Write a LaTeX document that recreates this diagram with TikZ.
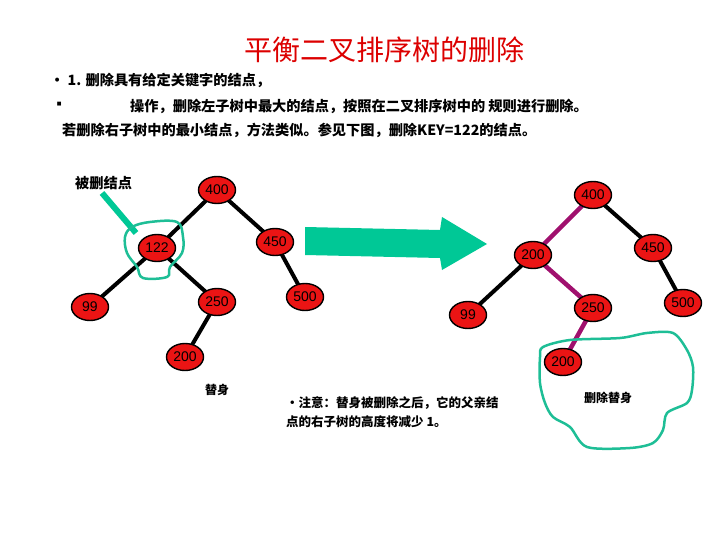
\documentclass[tikz,border=0pt]{standalone}
\usepackage{fontspec}
\setmainfont{Liberation Sans}
\newfontfamily\cjk{Noto Sans CJK SC}
\usetikzlibrary{shapes.geometric,backgrounds}
\definecolor{teal1}{RGB}{0,200,150}
\definecolor{loopc}{RGB}{30,190,150}
\definecolor{purp}{RGB}{160,16,110}
\definecolor{nred}{RGB}{235,20,20}
\definecolor{tred}{RGB}{220,0,0}
\tikzset{
  tn/.style={ellipse,draw=black,line width=1.4pt,fill=nred,minimum width=37pt,minimum height=27pt,inner sep=0pt,font=\fontsize{14}{14}\selectfont},
  blk/.style={draw=black,line width=4pt},
  pur/.style={draw=purp,line width=4.5pt},
  txt/.style={anchor=west,inner sep=0pt,font=\cjk\bfseries\fontsize{14.2}{16}\selectfont},
  loopline/.style={draw=loopc,line width=2.5pt,line join=round}
}
\begin{document}
\begin{tikzpicture}[x=1pt,y=-1pt]
\useasboundingbox (0,0) rectangle (720,540);
% title
\node[text=tred,font=\cjk\fontsize{28}{30}\selectfont] (title) at (384,50) {平衡二叉排序树的删除};
% text lines
\node[txt] (l1) at (50,80) {· 1. 删除具有给定关键字的结点，};
\node[txt] (l2b) at (52,106) {▪};
\node[txt] (l2) at (130,106) {操作，删除左子树中最大的结点，按照在二叉排序树中的 规则进行删除。};
\node[txt] (l3) at (62,130) {若删除右子树中的最小结点，方法类似。参见下图，删除KEY=122的结点。};
\node[txt] (lbl1) at (75,183) {被删结点};
\node[txt,font=\cjk\bfseries\fontsize{12}{14}\selectfont] (lbl2) at (205,390) {替身};
\node[txt,align=left,font=\cjk\bfseries\fontsize{12.5}{19}\selectfont] (note) at (286,412) {·注意：替身被删除之后，它的父亲结\\点的右子树的高度将减少 1。};
\node[txt,font=\cjk\bfseries\fontsize{12}{14}\selectfont] (lbl3) at (584,398) {删除替身};
% left tree
\node[tn] (a400) at (217,190) {400};
\node[tn] (a122) at (157,248) {122};
\node[tn] (a450) at (275,242) {450};
\node[tn] (a99) at (90,307) {99};
\node[tn] (a250) at (217,302) {250};
\node[tn] (a500) at (305,297) {500};
\node[tn] (a200) at (185,357) {200};
% right tree
\node[tn] (b400) at (593,195) {400};
\node[tn] (b200) at (533,255) {200};
\node[tn] (b450) at (653,248) {450};
\node[tn] (b99) at (468,315) {99};
\node[tn] (b250) at (593,308) {250};
\node[tn] (b500) at (683,303) {500};
\node[tn] (b200b) at (563,362) {200};
\begin{scope}[on background layer]
\draw[blk] (a400.center) -- (a122.center);
\draw[blk] (a400.center) -- (a450.center);
\draw[blk] (a122.center) -- (a99.center);
\draw[blk] (a122.center) -- (a250.center);
\draw[blk] (a450.center) -- (a500.center);
\draw[blk] (a250.center) -- (a200.center);
\draw[pur] (b400.center) -- (b200.center);
\draw[blk] (b400.center) -- (b450.center);
\draw[blk] (b200.center) -- (b99.center);
\draw[pur] (b200.center) -- (b250.center);
\draw[blk] (b450.center) -- (b500.center);
\draw[pur] (b250.center) -- (b200b.center);
\end{scope}
% big arrow
\fill[teal1] (305,227) -- (440,230) -- (442,217) -- (487,244) -- (442,270) -- (440,258) -- (305,255) -- cycle;
% pointer
\coordinate (p0) at (102,193);
\coordinate (p1) at (136,233);
\draw[draw=teal1,line width=6pt] (p0) -- (p1);
% loop around 122
\draw[loopline] plot[smooth cycle,tension=0.6] coordinates {(132,227) (150,222) (177,222) (183,237) (182,253) (170,267) (167,277) (143,278) (137,267) (127,253) (125,237)};
% loop around replacement
\draw[loopline] plot[smooth cycle,tension=0.5] coordinates {(543,347) (570,340) (620,338) (647,333) (673,333) (687,350) (693,367) (692,390) (687,403) (667,413) (663,430) (653,443) (630,448) (587,447) (570,427) (553,417) (545,403) (540,383) (540,357)};
\end{tikzpicture}
\end{document}
